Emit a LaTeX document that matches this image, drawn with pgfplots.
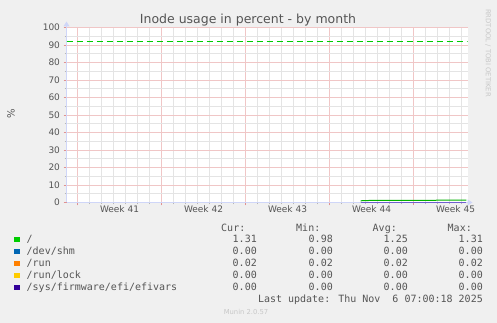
\documentclass[border=0pt]{standalone}
\usepackage{pgfplots}
\pgfplotsset{compat=1.18}
\usepackage{fontspec}
\setmainfont{DejaVu Sans}
\newfontfamily\mono{DejaVu Sans Mono}
\usetikzlibrary{arrows.meta}
\definecolor{bg}{HTML}{F0F0F0}
\definecolor{fontc}{HTML}{555555}
\definecolor{axisc}{HTML}{CFD6F8}
\definecolor{mgrid}{HTML}{F0C6C6}
\definecolor{sgrid}{HTML}{E4E4E4}
\definecolor{mtick}{HTML}{E09090}
\definecolor{wm}{HTML}{C8C8C8}
\definecolor{cA}{HTML}{00CC00}
\definecolor{cAl}{HTML}{00B000}
\definecolor{cB}{HTML}{0066B3}
\definecolor{cC}{HTML}{FF8000}
\definecolor{cD}{HTML}{FFCC00}
\definecolor{cE}{HTML}{330099}
\definecolor{cEl}{HTML}{7060D0}
\begin{document}
\begin{tikzpicture}[x=1pt,y=1pt]
\fill[bg] (0,0) rectangle (497,323);
\begin{axis}[
  at={(66.5pt,120.5pt)}, anchor=south west,
  width=401pt, height=175pt, scale only axis,
  xmin=-0.917, xmax=32.5, ymin=0, ymax=100,
  axis background/.style={fill=white},
  axis x line=bottom, axis y line=left,
  axis line style={draw=axisc, line width=1pt},
  x axis line style={-{Triangle[length=5pt,width=6pt]}, shorten >=-5pt},
  y axis line style={-{Triangle[length=5pt,width=6pt]}, shorten >=-6pt},
  xmajorgrids=true, ymajorgrids=true, xminorgrids=true, yminorgrids=true,
  major grid style={draw=mgrid, solid, line width=0.9pt},
  minor grid style={draw=sgrid, solid, line width=0.9pt},
  tick align=outside,
  major tick length=3pt, minor tick length=2pt,
  major tick style={draw=mtick, line width=0.9pt, solid},
  minor tick style={draw=sgrid!80!black, line width=0.9pt, solid},
  xtick={0,7,14,21,28}, xticklabels={},
  minor xtick={1,2,3,4,5,6,8,9,10,11,12,13,15,16,17,18,19,20,22,23,24,25,26,27,29,30,31,32},
  extra x ticks={3.5,10.5,17.5,24.5,31.5},
  extra x tick labels={Week 41,Week 42,Week 43,Week 44,Week 45},
  extra x tick style={xmajorgrids=false, major tick length=0pt},
  ytick={0,10,...,100},
  minor ytick={5,15,...,95},
  tick label style={font=\fontsize{9}{10}\selectfont, text=fontc},
  /pgf/number format/assume math mode=true,
]
\addplot[color=cAl, solid, line width=1pt] coordinates {(23.6,0.98) (24.5,1.20) (25.5,1.22) (26.5,1.24) (27.5,1.25) (28.5,1.27) (29.5,1.28) (30.5,1.29) (31.5,1.30) (32.4,1.31)};
\addplot[color=cB, solid, line width=1pt] coordinates {(23.6,0) (32.4,0)};
\addplot[color=cC, solid, line width=1pt] coordinates {(23.6,0.02) (32.4,0.02)};
\addplot[color=cD, solid, line width=1pt] coordinates {(23.6,0) (32.4,0)};
\addplot[color=cEl, solid, line width=1pt] coordinates {(23.6,0) (32.4,0)};
\addplot[draw=cA, line width=1.1pt, dash pattern=on 6pt off 4pt] coordinates {(-0.917,92) (32.5,92)};
\end{axis}
% title and labels
\node[anchor=base, text=fontc, font=\fontsize{12.5}{14}\selectfont, inner sep=0] at (248,299) {Inode usage in percent - by month};
\node[rotate=90, text=fontc, font=\fontsize{10}{12}\selectfont, inner sep=0] at (11,209) {\%};
\node[rotate=-90, text=wm, font=\fontsize{6.8}{8}\selectfont, inner sep=0] at (488,270) {RRDTOOL / TOBI OETIKER};
% legend
\begin{scope}[every node/.style={inner sep=0, text=fontc, font=\mono\fontsize{10}{12}\selectfont}]
\node[anchor=base east] at (245.5,91.3) {Cur:};
\node[anchor=base east] at (320.5,91.3) {Min:};
\node[anchor=base east] at (397,91.3) {Avg:};
\node[anchor=base east] at (472,91.3) {Max:};
\foreach \y/\c/\lab/\cur/\mn/\av/\mx in {80.5/cA/{/}/1.31/0.98/1.25/1.31, 68.5/cB/{/dev/shm}/0.00/0.00/0.00/0.00, 56.5/cC/{/run}/0.02/0.02/0.02/0.02, 44.5/cD/{/run/lock}/0.00/0.00/0.00/0.00, 32.5/cE/{/sys/firmware/efi/efivars}/0.00/0.00/0.00/0.00}{
  \node[anchor=base west] at (14,\y) {\textcolor{\c}{\rule{5.5pt}{5.5pt}}};
  \node[anchor=base west] at (26.5,\y) {\lab};
  \node[anchor=base east] at (257,\y) {\cur};
  \node[anchor=base east] at (333,\y) {\mn};
  \node[anchor=base east] at (408,\y) {\av};
  \node[anchor=base east] at (483,\y) {\mx};
}
\node[anchor=base east] at (483,20.3) {Last update: Thu Nov\ \ 6 07:00:18 2025};
\end{scope}
\node[text=wm, font=\fontsize{6.8}{8}\selectfont, inner sep=0] at (246,11) {Munin 2.0.57};
\end{tikzpicture}
\end{document}
